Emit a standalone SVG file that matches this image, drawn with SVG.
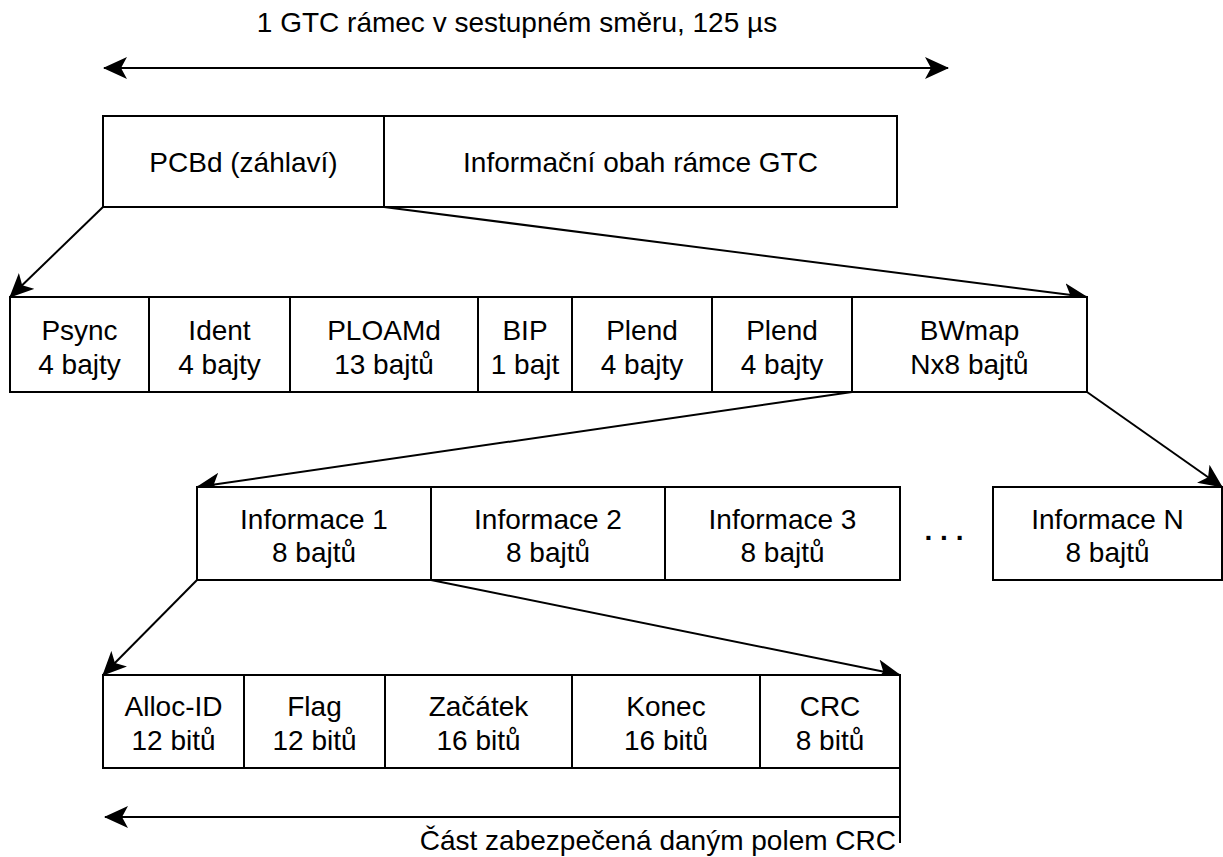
<svg xmlns="http://www.w3.org/2000/svg" width="1223" height="857" viewBox="0 0 1223 857">
<defs>
<marker id="ah" viewBox="0 0 24 22" refX="23" refY="11" markerWidth="24" markerHeight="22" markerUnits="userSpaceOnUse" orient="auto-start-reverse">
<path d="M0,0 L24,11 L0,22 L6,11 Z" fill="#000"/>
</marker>
<style>
.b{fill:#fff;stroke:#000;stroke-width:2}
.t{font-family:"Liberation Sans",Arial,sans-serif;font-size:28px;fill:#000;text-anchor:middle}
.c{stroke:#000;stroke-width:2;fill:none}
</style>
</defs>
<rect width="1223" height="857" fill="#fff"/>
<text class="t" x="517" y="32">1 GTC rámec v sestupném směru, 125 µs</text>
<g id="connectors">
<line class="c" x1="104" y1="68" x2="948" y2="68" marker-start="url(#ah)" marker-end="url(#ah)"/>
<line class="c" x1="103" y1="207" x2="10" y2="297" marker-end="url(#ah)"/>
<line class="c" x1="384" y1="207" x2="1087" y2="297" marker-end="url(#ah)"/>
<line class="c" x1="852" y1="392" x2="197" y2="487" marker-end="url(#ah)"/>
<line class="c" x1="1087" y1="392" x2="1222" y2="487" marker-end="url(#ah)"/>
<line class="c" x1="197" y1="580" x2="103" y2="675" marker-end="url(#ah)"/>
<line class="c" x1="431" y1="580" x2="900" y2="675" marker-end="url(#ah)"/>
<line class="c" x1="900" y1="768" x2="900" y2="843"/>
<line class="c" x1="900" y1="817" x2="105" y2="817" marker-end="url(#ah)"/>
</g>
<g id="pcbd"><rect class="b" x="103" y="116" width="281" height="91"/><text class="t" x="243.5" y="172">PCBd (záhlaví)</text></g>
<g id="payload"><rect class="b" x="384" y="116" width="513" height="91"/><text class="t" x="640.5" y="172">Informační obah rámce GTC</text></g>
<g id="psync"><rect class="b" x="10" y="297" width="139" height="95"/><text class="t" x="79.5" y="340">Psync</text><text class="t" x="79.5" y="374">4 bajty</text></g>
<g id="ident"><rect class="b" x="149" y="297" width="141" height="95"/><text class="t" x="219.5" y="340">Ident</text><text class="t" x="219.5" y="374">4 bajty</text></g>
<g id="ploamd"><rect class="b" x="290" y="297" width="188" height="95"/><text class="t" x="384" y="340">PLOAMd</text><text class="t" x="384" y="374">13 bajtů</text></g>
<g id="bip"><rect class="b" x="478" y="297" width="94" height="95"/><text class="t" x="525" y="340">BIP</text><text class="t" x="525" y="374">1 bajt</text></g>
<g id="plend1"><rect class="b" x="572" y="297" width="140" height="95"/><text class="t" x="642" y="340">Plend</text><text class="t" x="642" y="374">4 bajty</text></g>
<g id="plend2"><rect class="b" x="712" y="297" width="140" height="95"/><text class="t" x="782" y="340">Plend</text><text class="t" x="782" y="374">4 bajty</text></g>
<g id="bwmap"><rect class="b" x="852" y="297" width="235" height="95"/><text class="t" x="969.5" y="340">BWmap</text><text class="t" x="969.5" y="374">Nx8 bajtů</text></g>
<g id="info1"><rect class="b" x="197" y="487" width="234" height="93"/><text class="t" x="314" y="529">Informace 1</text><text class="t" x="314" y="562">8 bajtů</text></g>
<g id="info2"><rect class="b" x="431" y="487" width="234" height="93"/><text class="t" x="548" y="529">Informace 2</text><text class="t" x="548" y="562">8 bajtů</text></g>
<g id="info3"><rect class="b" x="665" y="487" width="235" height="93"/><text class="t" x="782.5" y="529">Informace 3</text><text class="t" x="782.5" y="562">8 bajtů</text></g>
<g id="dots"><text class="t" x="944" y="540" style="font-weight:bold">. . .</text></g>
<g id="infoN"><rect class="b" x="993" y="487" width="229" height="93"/><text class="t" x="1107.5" y="529">Informace N</text><text class="t" x="1107.5" y="562">8 bajtů</text></g>
<g id="allocid"><rect class="b" x="103" y="675" width="141" height="93"/><text class="t" x="173.5" y="716">Alloc-ID</text><text class="t" x="173.5" y="750">12 bitů</text></g>
<g id="flag"><rect class="b" x="244" y="675" width="141" height="93"/><text class="t" x="314.5" y="716">Flag</text><text class="t" x="314.5" y="750">12 bitů</text></g>
<g id="zacatek"><rect class="b" x="385" y="675" width="187" height="93"/><text class="t" x="478.5" y="716">Začátek</text><text class="t" x="478.5" y="750">16 bitů</text></g>
<g id="konec"><rect class="b" x="572" y="675" width="188" height="93"/><text class="t" x="666" y="716">Konec</text><text class="t" x="666" y="750">16 bitů</text></g>
<g id="crc"><rect class="b" x="760" y="675" width="140" height="93"/><text class="t" x="830" y="716">CRC</text><text class="t" x="830" y="750">8 bitů</text></g>
<text class="t" x="896" y="850" style="text-anchor:end">Část zabezpečená daným polem CRC</text>
</svg>
